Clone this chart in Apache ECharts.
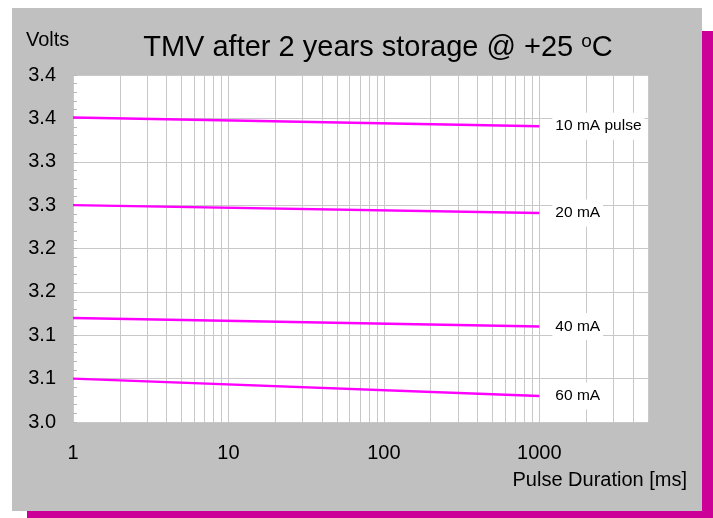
<!DOCTYPE html>
<html>
<head>
<meta charset="utf-8">
<script src="https://cdn.jsdelivr.net/npm/echarts@6/dist/echarts.min.js"></script>
<style>
html,body{margin:0;padding:0;background:#ffffff;}
#c{width:713px;height:518px;}
</style>
</head>
<body>
<div id="c"></div>
<script>
// ---- data ----
const durations = [1, 1000];              // pulse duration (ms), start & end of each curve
const seriesNames = ['10 mA pulse', '20 mA', '40 mA', '60 mA'];
const v10mA = [3.351, 3.341];
const v20mA = [3.250, 3.241];
const v40mA = [3.120, 3.110];
const v60mA = [3.050, 3.030];
const xTickValues = [1, 10, 100, 1000];
const xTickLabels = ['1', '10', '100', '1000'];
const xMinorGrid = [2,3,4,5,6,7,8,9,20,30,40,50,60,70,80,90,200,300,400,500,600,700,800,900,2000,3000,4000];
const yTickLabels = ['3.0','3.1','3.1','3.2','3.2','3.3','3.3','3.4','3.4'];
const titleText = 'TMV after 2 years storage @ +25 ';
const yName = 'Volts';
const xName = 'Pulse Duration [ms]';

const FONT = 'Liberation Sans, Arial, sans-serif';
const GRID = '#c8c8c8';
const allValues = [v10mA, v20mA, v40mA, v60mA];

const chart = echarts.init(document.getElementById('c'), null, {renderer: 'canvas'});

const series = seriesNames.map((name, i) => ({
  name: name,
  type: 'line',
  data: durations.map((d, k) => [d, allValues[i][k]]),
  showSymbol: false,
  symbol: 'none',
  z: 3,
  lineStyle: {color: '#ff00ff', width: 2.5},
  itemStyle: {color: '#ff00ff'},
  endLabel: {
    show: true,
    formatter: '{a}',
    color: '#000',
    fontFamily: FONT,
    fontSize: 15.5,
    backgroundColor: '#ffffff',
    padding: [6, 3, 5, 3],
    distance: 13
  }
}));
series[0].markLine = {
  silent: true,
  z: 1,
  symbol: 'none',
  animation: false,
  label: {show: false},
  lineStyle: {color: GRID, width: 1, type: 'solid'},
  data: xMinorGrid.map(v => ({xAxis: v}))
};

const option = {
  animation: false,
  backgroundColor: '#ffffff',
  graphic: [
    {type: 'rect', z: -20, shape: {x: 27, y: 31, width: 700, height: 500}, style: {fill: '#cc0099'}},
    {type: 'rect', z: -10, shape: {x: 12, y: 8, width: 690, height: 503}, style: {fill: '#c0c0c0'}},
    {type: 'text', z: 10, x: 378, y: 48, style: {
      text: titleText + '{sup|o}C',
      fontFamily: FONT, fontSize: 29, fill: '#000',
      align: 'center', verticalAlign: 'middle',
      rich: {sup: {fontSize: 19, fontFamily: FONT, verticalAlign: 'top', padding: [0, 0, 12, 0]}}
    }},
    {type: 'text', z: 10, x: 26, y: 40, style: {
      text: yName, fontFamily: FONT, fontSize: 20, fill: '#000',
      align: 'left', verticalAlign: 'middle'
    }},
    {type: 'text', z: 10, x: 687, y: 480, style: {
      text: xName, fontFamily: FONT, fontSize: 20, fill: '#000',
      align: 'right', verticalAlign: 'middle'
    }}
  ],
  grid: {
    left: 73, right: 65, top: 75, bottom: 96,
    show: true, backgroundColor: '#ffffff', borderWidth: 0
  },
  xAxis: {
    type: 'log',
    logBase: 10,
    min: 1,
    max: 5000,
    axisLine: {show: false},
    axisTick: {show: false},
    splitLine: {show: true, lineStyle: {color: GRID, width: 1}},
    axisLabel: {
      margin: 21,
      fontFamily: FONT, fontSize: 20, color: '#000',
      showMaxLabel: false,
      formatter: function (v) {
        for (let i = 0; i < xTickValues.length; i++) {
          if (Math.abs(v - xTickValues[i]) < 1e-6 * xTickValues[i]) return xTickLabels[i];
        }
        return '';
      }
    }
  },
  yAxis: {
    type: 'value',
    min: 3.0,
    max: 3.4,
    interval: 0.05,
    axisLine: {show: false},
    axisTick: {show: true, inside: true, length: 4, lineStyle: {color: '#b8b8b8'}},
    minorTick: {show: true, splitNumber: 5, length: 4, lineStyle: {color: '#b8b8b8'}},
    splitLine: {show: true, lineStyle: {color: GRID, width: 1}},
    axisLabel: {
      margin: 17,
      fontFamily: FONT, fontSize: 20, color: '#000',
      formatter: function (v) {
        const idx = Math.round((v - 3.0) / 0.05);
        return yTickLabels[idx] !== undefined ? yTickLabels[idx] : '';
      }
    }
  },
  series: series
};
chart.setOption(option);
</script>
</body>
</html>
